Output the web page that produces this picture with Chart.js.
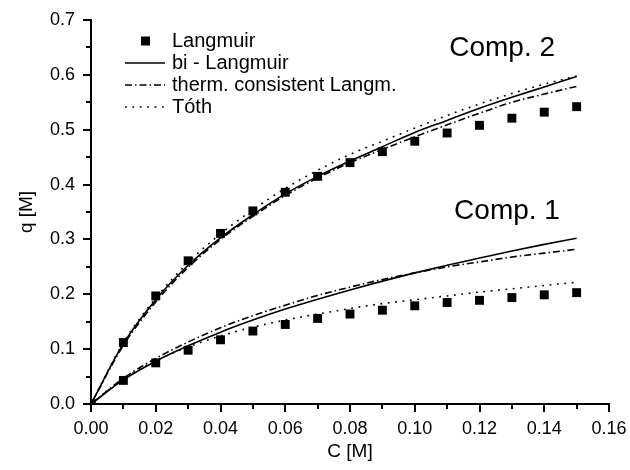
<!DOCTYPE html>
<html>
<head>
<meta charset="utf-8">
<script src="https://cdn.jsdelivr.net/npm/chart.js@4.4.1/dist/chart.umd.min.js"></script>
<style>
  html, body { margin: 0; padding: 0; background: #fff; }
</style>
</head>
<body>
<canvas id="myChart" width="630" height="470"></canvas>
<script>
// concentrations C [M]
const conc = [0, 0.01, 0.02, 0.03, 0.04, 0.05, 0.06, 0.07, 0.08, 0.09, 0.10, 0.11, 0.12, 0.13, 0.14, 0.15];

// Comp. 2
const comp2Langmuir = [0, 0.112, 0.197, 0.261, 0.311, 0.352, 0.386, 0.415, 0.440, 0.460, 0.479, 0.494, 0.508, 0.521, 0.532, 0.542];
const comp2BiLangmuir = [0, 0.110, 0.190, 0.253, 0.303, 0.345, 0.383, 0.415, 0.443, 0.469, 0.495, 0.517, 0.539, 0.559, 0.578, 0.597];
const comp2Consistent = [0, 0.107, 0.186, 0.249, 0.300, 0.342, 0.380, 0.412, 0.440, 0.464, 0.487, 0.509, 0.530, 0.550, 0.565, 0.579];
const comp2Toth = [0, 0.112, 0.193, 0.258, 0.310, 0.354, 0.393, 0.426, 0.455, 0.479, 0.503, 0.526, 0.547, 0.566, 0.583, 0.598];

// Comp. 1
const comp1Langmuir = [0, 0.043, 0.075, 0.098, 0.117, 0.133, 0.145, 0.156, 0.164, 0.171, 0.179, 0.185, 0.189, 0.194, 0.199, 0.203];
const comp1BiLangmuir = [0, 0.044, 0.078, 0.106, 0.131, 0.153, 0.173, 0.191, 0.208, 0.224, 0.239, 0.253, 0.266, 0.279, 0.291, 0.302];
const comp1Consistent = [0, 0.047, 0.083, 0.113, 0.139, 0.161, 0.180, 0.198, 0.213, 0.227, 0.239, 0.250, 0.259, 0.268, 0.275, 0.282];
const comp1Toth = [0, 0.046, 0.079, 0.104, 0.124, 0.140, 0.153, 0.164, 0.174, 0.183, 0.190, 0.197, 0.204, 0.210, 0.216, 0.222];

const seriesNames = ['Langmuir', 'bi - Langmuir', 'therm. consistent Langm.', 'Tóth'];
const compLabels = [
    {text: 'Comp. 2', x: 0.127, y: 0.649},
    {text: 'Comp. 1', x: 0.1285, y: 0.352}
];

const FONT = '"Liberation Sans", Arial, sans-serif';
const styles = [
    {dash: []},
    {dash: []},
    {dash: [7, 3, 1.5, 3]},
    {dash: [1.8, 5.6]}
];

function toPoints(values) {
    return values.map((v, i) => ({x: conc[i], y: v}));
}

function makeSet(name, values, idx) {
    if (idx === 0) {
        return {
            label: name,
            data: toPoints(values),
            showLine: false,
            pointStyle: 'rect',
            pointRadius: 6.3,
            pointBackgroundColor: '#000',
            pointBorderWidth: 0
        };
    }
    return {
        label: name,
        data: toPoints(values),
        borderColor: '#000',
        borderWidth: 1.6,
        borderDash: styles[idx].dash,
        pointRadius: 0,
        cubicInterpolationMode: 'monotone',
        fill: false
    };
}

const comp2 = [comp2Langmuir, comp2BiLangmuir, comp2Consistent, comp2Toth];
const comp1 = [comp1Langmuir, comp1BiLangmuir, comp1Consistent, comp1Toth];

const datasets = [];
// lines first, squares on top
for (let i = 3; i >= 0; i--) {
    datasets.push(makeSet(seriesNames[i], comp2[i], i));
    datasets.push(makeSet(seriesNames[i], comp1[i], i));
}

// ticks: major from the scale, minor halfway between them
const axisTicks = {
    id: 'axisTicks',
    afterDraw(chart) {
        const {ctx, chartArea, scales: {x, y}} = chart;
        ctx.save();
        ctx.strokeStyle = '#000';
        ctx.lineWidth = 2;
        ctx.beginPath();
        const xt = x.ticks.map(t => t.value);
        xt.forEach((v, i) => {
            const px = Math.round(x.getPixelForValue(v));
            ctx.moveTo(px, chartArea.bottom);
            ctx.lineTo(px, chartArea.bottom + 8);
            if (i < xt.length - 1) {
                const mx = Math.round(x.getPixelForValue((v + xt[i + 1]) / 2));
                ctx.moveTo(mx, chartArea.bottom);
                ctx.lineTo(mx, chartArea.bottom + 5);
            }
        });
        const yt = y.ticks.map(t => t.value);
        yt.forEach((v, i) => {
            const py = Math.round(y.getPixelForValue(v));
            ctx.moveTo(chartArea.left, py);
            ctx.lineTo(chartArea.left - 8, py);
            if (i < yt.length - 1) {
                const my = Math.round(y.getPixelForValue((v + yt[i + 1]) / 2));
                ctx.moveTo(chartArea.left, my);
                ctx.lineTo(chartArea.left - 5, my);
            }
        });
        ctx.stroke();
        ctx.restore();
    }
};

// legend + component labels
const annotations = {
    id: 'annotations',
    afterDraw(chart) {
        const {ctx, scales: {x, y}} = chart;
        ctx.save();
        ctx.fillStyle = '#000';
        ctx.strokeStyle = '#000';
        ctx.textBaseline = 'middle';

        ctx.font = '20px ' + FONT;
        seriesNames.forEach((name, i) => {
            const ry = 41 + i * 22;
            if (i === 0) {
                ctx.fillRect(141, ry - 4.5, 9, 9);
            } else {
                ctx.beginPath();
                ctx.lineWidth = 1.6;
                ctx.setLineDash(styles[i].dash);
                ctx.moveTo(125, ry);
                ctx.lineTo(165, ry);
                ctx.stroke();
                ctx.setLineDash([]);
            }
            ctx.textAlign = 'left';
            ctx.fillText(name, 172, ry);
        });

        ctx.font = '28px ' + FONT;
        ctx.textAlign = 'center';
        compLabels.forEach(l => {
            ctx.fillText(l.text, x.getPixelForValue(l.x), y.getPixelForValue(l.y));
        });
        ctx.restore();
    }
};

const config = {
    type: 'line',
    data: {datasets},
    options: {
        responsive: false,
        animation: false,
        layout: {padding: {left: 0, right: 21, top: 20, bottom: 0}},
        plugins: {
            legend: {display: false},
            tooltip: {enabled: false}
        },
        scales: {
            x: {
                type: 'linear',
                min: 0,
                max: 0.16,
                grid: {display: false},
                border: {display: true, color: '#000', width: 2},
                ticks: {
                    stepSize: 0.02,
                    padding: 6,
                    color: '#000',
                    font: {family: FONT, size: 18},
                    maxRotation: 0,
                    callback: v => v.toFixed(2)
                },
                title: {
                    display: true,
                    text: 'C [M]',
                    color: '#000',
                    font: {family: FONT, size: 19},
                    padding: {top: 0, bottom: 7}
                },
                afterFit: s => { s.height = 66; s.paddingLeft = 0; s.paddingRight = 0; }
            },
            y: {
                min: 0,
                max: 0.7,
                grid: {display: false},
                border: {display: true, color: '#000', width: 2},
                ticks: {
                    stepSize: 0.1,
                    padding: 8,
                    color: '#000',
                    font: {family: FONT, size: 18},
                    callback: v => v.toFixed(1)
                },
                title: {
                    display: true,
                    text: 'q [M]',
                    color: '#000',
                    font: {family: FONT, size: 19},
                    padding: {top: 15, bottom: 0}
                },
                afterFit: s => { s.width = 91; s.paddingTop = 0; s.paddingBottom = 0; }
            }
        }
    },
    plugins: [axisTicks, annotations]
};

const myChart = new Chart(document.getElementById('myChart'), config);
</script>
</body>
</html>
